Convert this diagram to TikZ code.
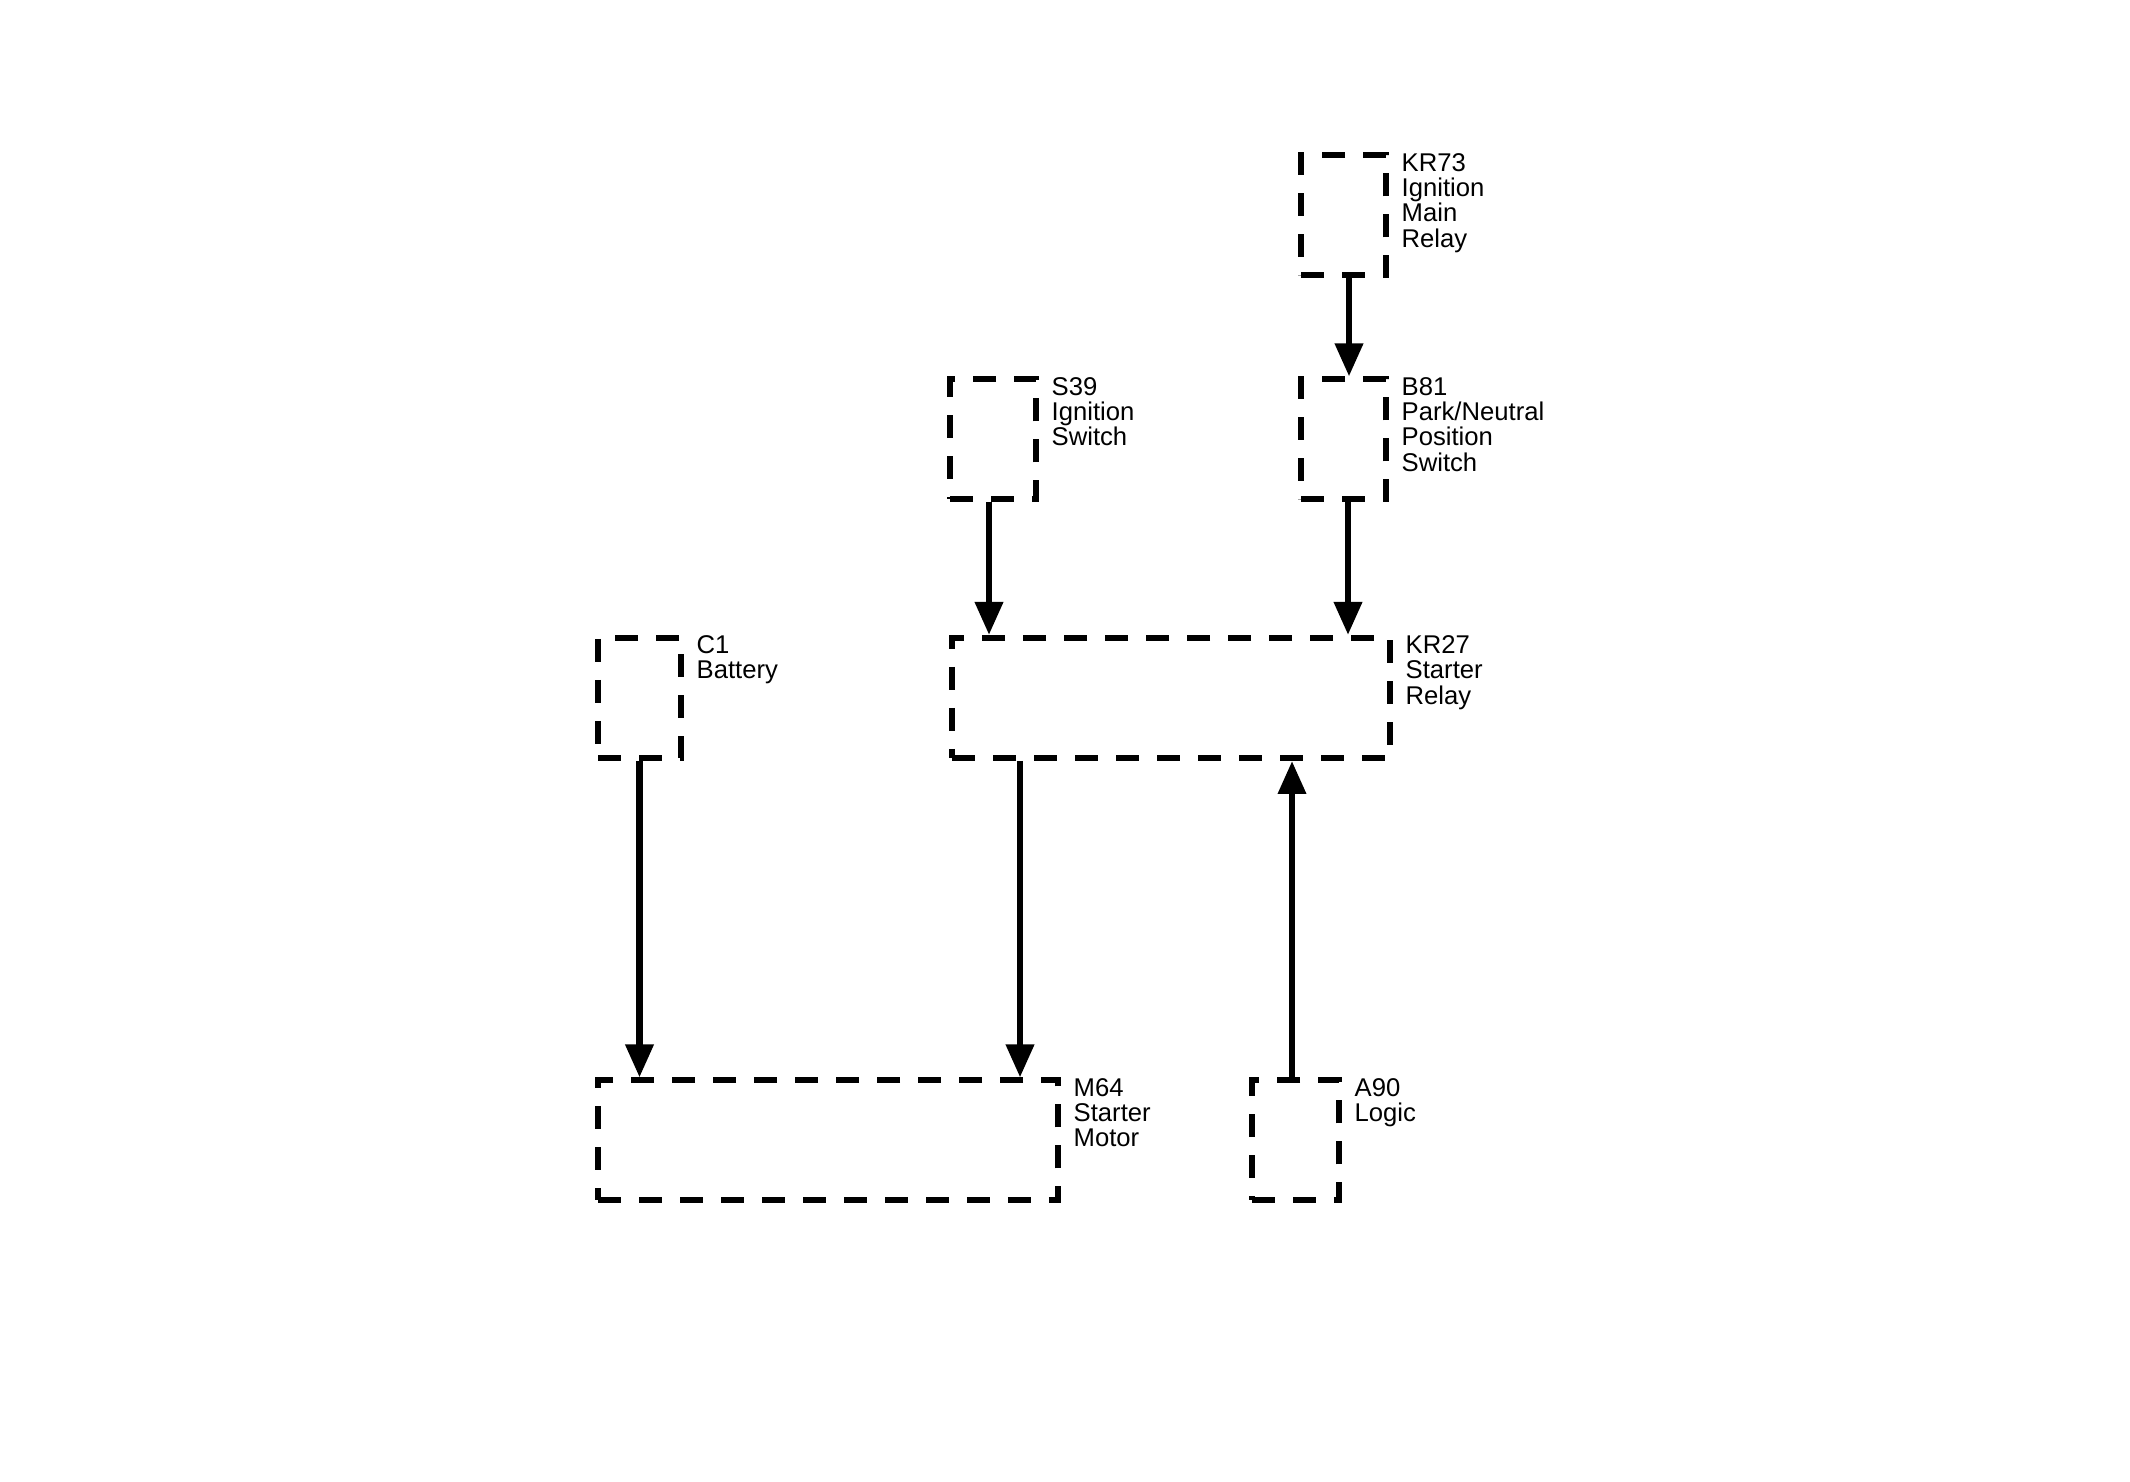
\documentclass[tikz,border=0pt]{standalone}
\usepackage{fontspec}
\setmainfont{Liberation Sans}
\usetikzlibrary{arrows.meta}

\begin{document}
\begin{tikzpicture}[
    caja/.style={draw, line width=1.7pt, dash pattern=on 0.23cm off 0.18cm,
        minimum height=1.2cm, inner sep=0pt},
    rotulo/.style={anchor=north west, inner sep=0pt, align=left,
        font=\fontsize{7.3}{7.2}\selectfont},
    cable/.style={-{Triangle[width=0.27cm,length=0.33cm]}, line width=1.9pt}]
    \useasboundingbox (0,0) rectangle (21.3,14.82);

    % Componentes (cajas punteadas)
    \node[caja, minimum width=0.85cm] (KR73) at (13.435,12.665) {};
    \node[caja, minimum width=0.85cm] (B81)  at (13.435,10.425) {};
    \node[caja, minimum width=0.86cm] (S39)  at (9.93,10.425)   {};
    \node[caja, minimum width=4.38cm] (KR27) at (11.71,7.84)    {};
    \node[caja, minimum width=0.83cm] (C1)   at (6.395,7.84)    {};
    \node[caja, minimum width=4.60cm] (M64)  at (8.28,3.415)    {};
    \node[caja, minimum width=0.87cm] (A90)  at (12.955,3.415)  {};

    % Rotulos a la derecha de cada caja
    \node[rotulo] (KR73t) at ([xshift=0.12cm]KR73.north east) {KR73\\Ignition\\Main\\Relay};
    \node[rotulo] (B81t)  at ([xshift=0.12cm]B81.north east)  {B81\\Park/Neutral\\Position\\Switch};
    \node[rotulo] (S39t)  at ([xshift=0.12cm]S39.north east)  {S39\\Ignition\\Switch};
    \node[rotulo] (KR27t) at ([xshift=0.12cm]KR27.north east) {KR27\\Starter\\Relay};
    \node[rotulo] (C1t)   at ([xshift=0.12cm]C1.north east)   {C1\\Battery};
    \node[rotulo] (M64t)  at ([xshift=0.12cm]M64.north east)  {M64\\Starter\\Motor};
    \node[rotulo] (A90t)  at ([xshift=0.12cm]A90.north east)  {A90\\Logic};

    % Conexiones
    \coordinate (K73s) at ([xshift=0.055cm]KR73.south);
    \draw[cable] (K73s) -- (K73s |- B81.north);
    \coordinate (S39s) at ([xshift=-0.04cm]S39.south);
    \draw[cable] (S39s) -- (S39s |- KR27.north);
    \coordinate (B81s) at ([xshift=0.045cm]B81.south);
    \draw[cable] (B81s) -- (B81s |- KR27.north);
    \draw[cable] (C1.south) -- (C1.south |- M64.north);
    \coordinate (K27s) at ([xshift=0.71cm]KR27.south west);   % salida hacia el motor
    \draw[cable] (K27s) -- (K27s |- M64.north);
    \coordinate (A90n) at ([xshift=-0.035cm]A90.north);
    \draw[cable] (A90n) -- (A90n |- KR27.south);
\end{tikzpicture}
\end{document}
